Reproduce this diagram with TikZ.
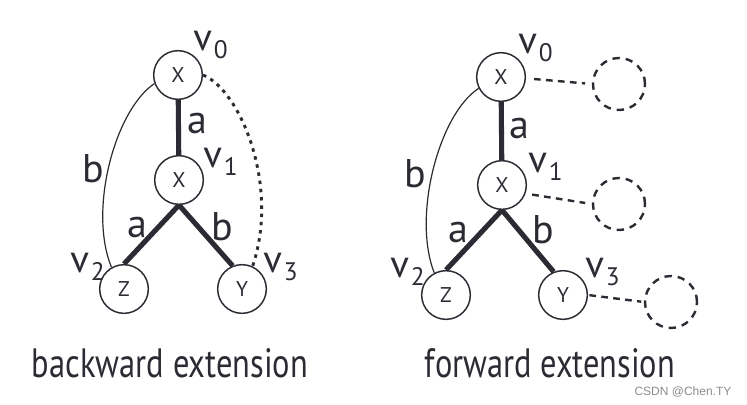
\documentclass[tikz,border=0pt]{standalone}
\usepackage{graphicx}
\usepackage{fontspec}
\setmainfont{PT Sans}
\newfontfamily\markfont{Liberation Sans}
\definecolor{ink}{HTML}{2B2B33}
\newcommand{\vname}[1]{v\hspace{1.5pt}\raisebox{-6pt}{\fontsize{19}{19}\selectfont #1}}
\newcommand{\captext}[2]{\resizebox{#1}{21.75pt}{#2}}

\begin{document}
\begin{tikzpicture}[
      x=0.75pt,y=-0.75pt,
      every node/.style={text=ink},
      vert/.style={circle,draw=ink,line width=1.1pt,minimum size=36.5pt,inner sep=0pt,font=\fontsize{16}{16}\selectfont},
      ghost/.style={circle,draw=ink,line width=1.8pt,dash pattern=on 5.5pt off 4.5pt,minimum size=39pt,inner sep=0pt},
      tree/.style={draw=ink,line width=3.8pt},
      back/.style={draw=ink,line width=0.9pt},
      hint/.style={draw=ink,line width=2.2pt,dash pattern=on 2.6pt off 3.6pt},
      fwd/.style={draw=ink,line width=1.8pt,dash pattern=on 5pt off 4pt},
      elab/.style={font=\fontsize{30}{30}\selectfont,anchor=base,inner sep=0pt},
      vlab/.style={font=\fontsize{29}{29}\selectfont,anchor=base west,inner sep=0pt}
    ]
    \useasboundingbox (0,0) rectangle (747,404);

    % backward extension: the vertices
    \node[vert] (bv0) at (178,75) {X};
    \node[vert] (bv1) at (179,180) {X};
    \node[vert] (bz) at (124,289) {Z};
    \node[vert] (by) at (242,289) {Y};

    % the tree edges, then the back edge and the candidate one
    \draw[tree] (bv0) -- (bv1);
    \draw[tree] (bv1.south) -- (bz.north);
    \draw[tree] (bv1.south) -- (by.112);
    \draw[back] (bv0.200) .. controls (115,110) and (88,210) .. (bz.120);
    \draw[hint] (bv0.east) .. controls (240,90) and (280,185) .. (by.65);

    % vertex names and edge labels
    \node[vlab] (bn0) at (193,50) {\vname{0}};
    \node[vlab] (bn1) at (203,167) {\vname{1}};
    \node[vlab] (bn2) at (70,272) {\vname{2}};
    \node[vlab] (bn3) at (263,272) {\vname{3}};
    \node[elab] (ba0) at (197,133) {a};
    \node[elab] (bb0) at (93,182) {b};
    \node[elab] (ba1) at (137,237) {a};
    \node[elab] (bb1) at (222,240) {b};

    % forward extension: the vertices and the empty targets
    \node[vert] (fv0) at (501,77) {X};
    \node[vert] (fv1) at (502,185) {X};
    \node[vert] (fz) at (446,295) {Z};
    \node[vert] (fy) at (563,295) {Y};
    \node[ghost] (fe0) at (619,84) {};
    \node[ghost] (fe1) at (619,204) {};
    \node[ghost] (fe3) at (671,302) {};

    % the tree edges, the back edge and the open ones
    \draw[tree] (fv0) -- (fv1);
    \draw[tree] (fv1.south) -- (fz.north);
    \draw[tree] (fv1.south) -- (fy.112);
    \draw[back] (fv0.207) .. controls (439,114) and (412,216) .. (fz.118);
    \draw[fwd,shorten <=6pt,shorten >=5pt] (fv0.-3) -- (fe0.west);
    \draw[fwd,shorten <=5pt,shorten >=5pt] (fv1.-20) -- (fe1.west);
    \draw[fwd,shorten <=1pt,shorten >=2pt] (fy.east) -- (fe3.west);

    % vertex names and edge labels
    \node[vlab] (fn0) at (518,53) {\vname{0}};
    \node[vlab] (fn1) at (528,172) {\vname{1}};
    \node[vlab] (fn2) at (390,277) {\vname{2}};
    \node[vlab] (fn3) at (585,277) {\vname{3}};
    \node[elab] (fa0) at (519,138) {a};
    \node[elab] (fb0) at (415,187) {b};
    \node[elab] (fa1) at (458,242) {a};
    \node[elab] (fb1) at (543,243) {b};

    % captions
    \node[anchor=base,inner sep=0pt] (bcap) at (170,377) {\captext{207pt}{backward extension}};
    \node[anchor=base,inner sep=0pt] (fcap) at (550,377) {\captext{187.5pt}{forward extension}};
    \node[anchor=base,inner sep=0pt,text=black!45,font=\markfont\fontsize{9}{9}\selectfont] (mark) at (683,395) {CSDN @Chen.TY};
\end{tikzpicture}
\end{document}
